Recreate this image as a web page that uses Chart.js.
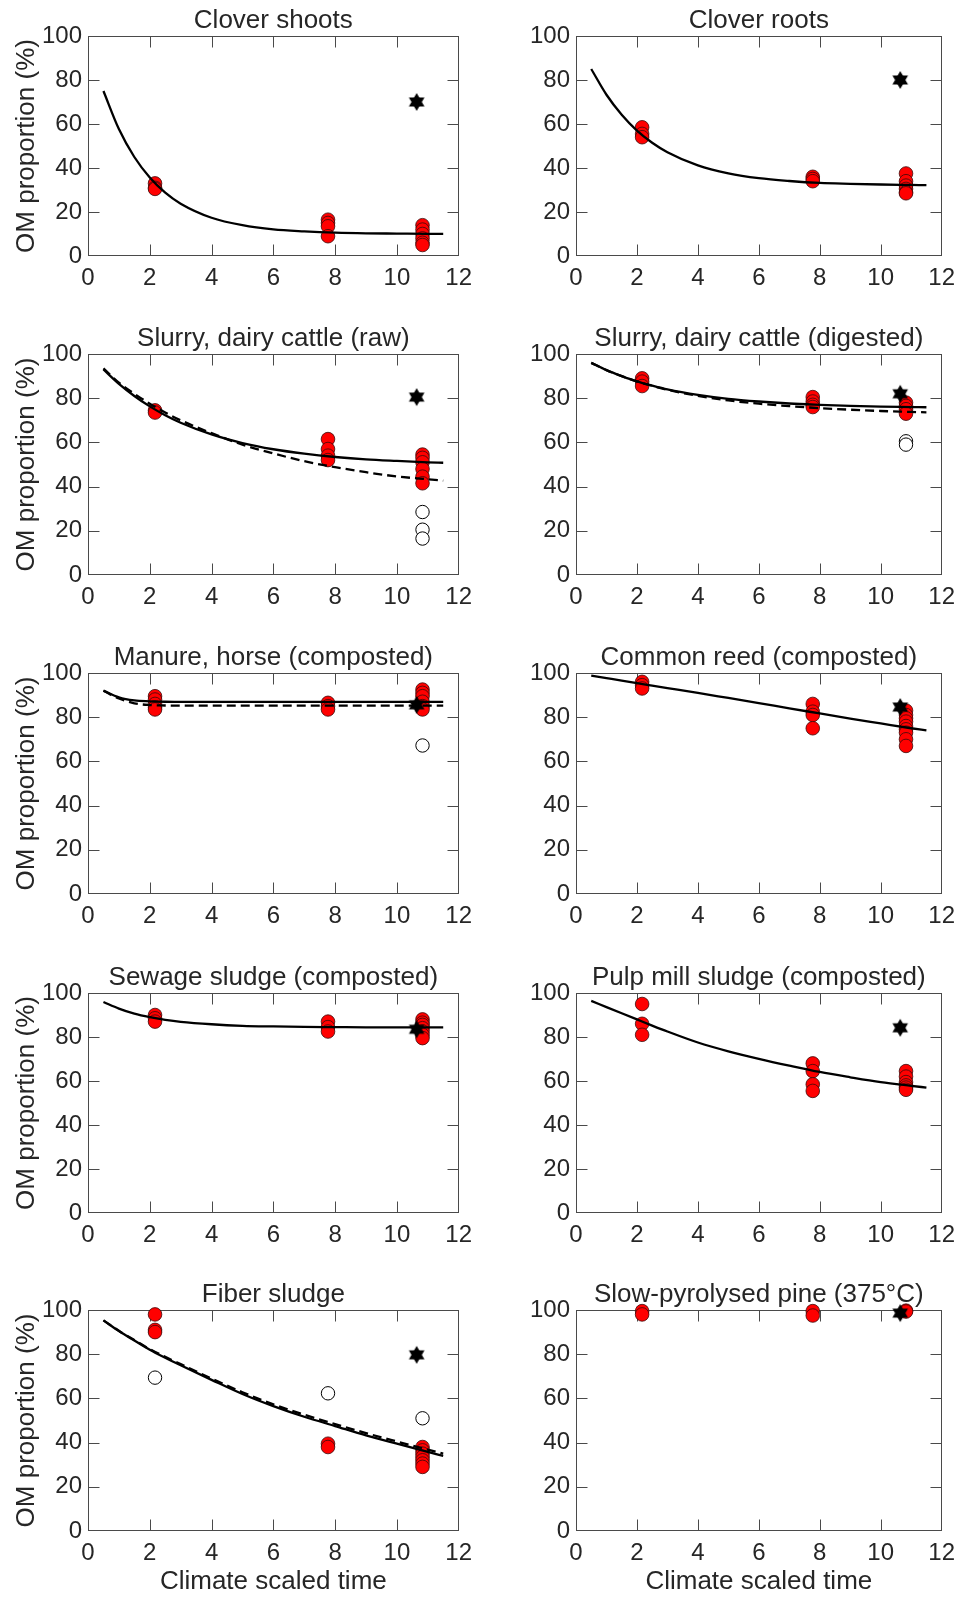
<!DOCTYPE html>
<html>
<head>
<meta charset="utf-8">
<script src="https://cdn.jsdelivr.net/npm/chart.js@4.4.1/dist/chart.umd.min.js"></script>
<style>
  html, body { margin: 0; padding: 0; background: #fff; }
  #wrap { position: relative; width: 963px; height: 1597px; overflow: hidden; }
  canvas { position: absolute; }
</style>
</head>
<body>
<div id="wrap"></div>
<script>
// sampling times of the measured points (climate scaled time)
const sampleTimes = [2.17, 7.77, 10.83];
const starTime = 10.64;
const xTickValues = [0, 2, 4, 6, 8, 10, 12];
const yTickValues = [0, 20, 40, 60, 80, 100];

const curveTimes = [0.5, 1, 1.5, 2, 2.5, 3, 4, 5, 6, 7, 8, 9, 10, 11, 11.5];

const titles = [
    'Clover shoots', 'Clover roots',
    'Slurry, dairy cattle (raw)', 'Slurry, dairy cattle (digested)',
    'Manure, horse (composted)', 'Common reed (composted)',
    'Sewage sludge (composted)', 'Pulp mill sludge (composted)',
    'Fiber sludge', 'Slow-pyrolysed pine (375°C)'
];

// Clover shoots
const cloverShootsFit = [75, 57.7, 45, 35.7, 28.8, 23.8, 17.4, 14, 12.1, 11.2, 10.6, 10.3, 10.2, 10.1, 10.1];
const cloverShootsRed = [[33, 31, 30.5], [16.5, 15, 13.5, 9], [14, 12, 10, 8, 6, 5]];
const cloverShootsStar = 70;

// Clover roots
const cloverRootsFit = [85, 73.3, 64.2, 57, 51.5, 47.2, 41.2, 37.6, 35.4, 34.1, 33.2, 32.8, 32.5, 32.3, 32.2];
const cloverRootsRed = [[58.5, 55.5, 54], [36, 35, 34], [37.5, 34, 32, 30.5, 29, 28.5]];
const cloverRootsStar = 80;

// Slurry, dairy cattle (raw)
const slurryRawFit = [93, 86.5, 81, 76.3, 72.3, 68.9, 63.6, 59.7, 56.9, 54.9, 53.4, 52.3, 51.6, 51, 50.8];
const slurryRawFitAlt = [93.5, 87, 82, 77.5, 73.5, 70, 64.2, 59, 55, 51.5, 48.8, 46.5, 44.6, 43.3, 42.7];
const slurryRawRed = [[74.5, 73.5], [61.5, 57, 54, 52], [54.5, 53, 51, 48, 44.5, 41.5]];
const slurryRawOpen = [[], [], [28.5, 20.5, 16.5]];
const slurryRawStar = 80.5;

// Slurry, dairy cattle (digested)
const slurryDigFit = [96, 92.7, 90, 87.6, 85.7, 84, 81.5, 79.7, 78.5, 77.6, 77, 76.5, 76.2, 76, 75.9];
const slurryDigFitAlt = [96, 92.7, 90, 87.6, 85.6, 83.8, 81.1, 79, 77.5, 76.4, 75.5, 74.8, 74.2, 73.8, 73.6];
const slurryDigRed = [[89, 87.5, 85.5], [80.5, 78.5, 77, 76], [78, 76.5, 75, 73]];
const slurryDigOpen = [[], [], [60.5, 59]];
const slurryDigStar = 82;

// Manure, horse (composted)
const manureFit = [92, 89, 87.6, 87.2, 87, 86.9, 86.9, 86.9, 86.9, 86.9, 86.9, 86.9, 86.9, 86.9, 86.9];
const manureFitAlt = [92, 88.5, 86.3, 85.5, 85.3, 85.2, 85.2, 85.2, 85.2, 85.2, 85.2, 85.2, 85.2, 85.2, 85.2];
const manureRed = [[89.5, 88, 86, 84.5, 83.5], [86.5, 85, 83.5], [92.5, 91, 89.5, 87, 85, 83.5]];
const manureOpen = [[], [], [67.2]];
const manureStar = 85.6;

// Common reed (composted)
const reedFit = [98.8, 97.7, 96.6, 95.4, 94.3, 93.2, 91, 88.7, 86.4, 84, 81.7, 79.4, 77.2, 75, 74];
const reedRed = [[96, 94.5, 93], [86, 82.5, 81, 75], [83, 81, 79.5, 78, 76, 74.5, 73, 70, 67]];
const reedStar = 84.6;

// Sewage sludge (composted)
const sewageFit = [95.9, 92.9, 90.6, 89, 87.8, 86.9, 85.8, 85.1, 84.8, 84.6, 84.5, 84.4, 84.4, 84.4, 84.4];
const sewageRed = [[90, 88.5, 87], [87, 84.5, 82.5], [88, 86.5, 85.5, 84, 82.5, 81, 79.5]];
const sewageStar = 83.5;

// Pulp mill sludge (composted)
const pulpFit = [96.4, 93.6, 90.8, 88, 85.2, 82.5, 77.5, 73.5, 70.1, 67, 64.1, 61.7, 59.5, 57.8, 57];
const pulpRed = [[95, 86, 81], [68, 64.5, 58.5, 55.5], [64.5, 62, 59.5, 58, 57, 56]];
const pulpStar = 84.2;

// Fiber sludge
const fiberFit = [95.3, 90.5, 86.2, 82, 78.4, 75, 68.4, 62, 56.5, 51.7, 47.5, 43.3, 39.5, 35.8, 34];
const fiberFitAlt = [95.3, 90.6, 86.4, 82.3, 78.8, 75.5, 69, 62.8, 57.3, 52.6, 48.4, 44.3, 40.5, 36.8, 35];
const fiberRed = [[98, 91, 90], [39.5, 38], [38, 36.5, 35, 33.5, 32, 30.5, 29]];
const fiberOpen = [[69.4], [62.3], [51]];
const fiberStar = 79.7;

// Slow-pyrolysed pine (375°C)
const pineRed = [[99.5, 98], [99.5, 97.5], [99.7, 99.3]];
const pineStar = 98.6;

const panels = [
    { solid: cloverShootsFit, red: cloverShootsRed, star: cloverShootsStar },
    { solid: cloverRootsFit, red: cloverRootsRed, star: cloverRootsStar },
    { solid: slurryRawFit, dashed: slurryRawFitAlt, red: slurryRawRed, open: slurryRawOpen, star: slurryRawStar },
    { solid: slurryDigFit, dashed: slurryDigFitAlt, red: slurryDigRed, open: slurryDigOpen, star: slurryDigStar },
    { solid: manureFit, dashed: manureFitAlt, red: manureRed, open: manureOpen, star: manureStar },
    { solid: reedFit, red: reedRed, star: reedStar },
    { solid: sewageFit, red: sewageRed, star: sewageStar },
    { solid: pulpFit, red: pulpRed, star: pulpStar },
    { solid: fiberFit, dashed: fiberFitAlt, red: fiberRed, open: fiberOpen, star: fiberStar },
    { red: pineRed, star: pineStar }
];

const FONT = '"Liberation Sans", Arial, Helvetica, sans-serif';
const TEXT = '#262626';
const AXIS = '#4a4a4a';
const TICK_LEN = 11;

// layout of the 5x2 grid (pixel positions of the plot boxes)
const rowTops = [36, 354, 673, 993, 1310];
const rowBottoms = [256, 575, 894, 1213, 1531];
const canvasTops = [0, 318, 637, 957, 1274, 1597];
const cols = [
    { left: 0, width: 480, plotLeft: 88, plotRight: 459 },
    { left: 480, width: 483, plotLeft: 96, plotRight: 467 }
];

function makeStar(r) {
    const c = document.createElement('canvas');
    c.width = c.height = 2 * r + 2;
    const g = c.getContext('2d');
    g.fillStyle = '#000';
    const cx = r + 1, cy = r + 1;
    [-Math.PI / 2, Math.PI / 2].forEach(rot => {
        g.beginPath();
        for (let k = 0; k < 3; k++) {
            const a = rot + k * 2 * Math.PI / 3;
            g.lineTo(cx + r * Math.cos(a), cy + r * Math.sin(a));
        }
        g.closePath();
        g.fill();
    });
    return c;
}
const starImage = makeStar(9);

function groupsToPoints(groups) {
    const pts = [];
    groups.forEach((vals, i) => vals.forEach(v => pts.push({ x: sampleTimes[i], y: v })));
    return pts;
}

function curvePoints(values) {
    return curveTimes.map((t, i) => ({ x: t, y: values[i] }));
}

// box and inward ticks on all four sides, like the original figure
const framePlugin = {
    id: 'frame',
    beforeDatasetsDraw(chart) {
        const { ctx, chartArea: a, scales } = chart;
        const L = Math.round(a.left) + 0.5, R = Math.round(a.right) - 0.5;
        const T = Math.round(a.top) + 0.5, B = Math.round(a.bottom) - 0.5;
        ctx.save();
        ctx.strokeStyle = AXIS;
        ctx.lineWidth = 1;
        ctx.beginPath();
        scales.x.ticks.forEach(t => {
            const px = Math.round(scales.x.getPixelForValue(t.value)) + 0.5;
            if (px <= L + 1 || px >= R - 1) return;
            ctx.moveTo(px, B); ctx.lineTo(px, B - TICK_LEN);
            ctx.moveTo(px, T); ctx.lineTo(px, T + TICK_LEN);
        });
        scales.y.ticks.forEach(t => {
            const py = Math.round(scales.y.getPixelForValue(t.value)) + 0.5;
            if (py <= T + 1 || py >= B - 1) return;
            ctx.moveTo(L, py); ctx.lineTo(L + TICK_LEN, py);
            ctx.moveTo(R, py); ctx.lineTo(R - TICK_LEN, py);
        });
        ctx.stroke();
        ctx.strokeRect(L, T, R - L, B - T);
        ctx.restore();
    }
};

const wrap = document.getElementById('wrap');

panels.forEach((p, idx) => {
    const row = Math.floor(idx / 2), colIdx = idx % 2;
    const col = cols[colIdx];
    const top = canvasTops[row];
    const height = canvasTops[row + 1] - top;
    const plotH = rowBottoms[row] - rowTops[row];
    const xAxisH = height - 36 - plotH;
    const isBottom = row === 4;
    const isLeft = colIdx === 0;

    const canvas = document.createElement('canvas');
    canvas.width = col.width;
    canvas.height = height;
    canvas.style.left = col.left + 'px';
    canvas.style.top = top + 'px';
    canvas.style.width = col.width + 'px';
    canvas.style.height = height + 'px';
    wrap.appendChild(canvas);

    // first dataset is drawn on top
    const datasets = [];
    if (p.solid) {
        datasets.push({
            type: 'line', data: curvePoints(p.solid), borderColor: '#000', borderWidth: 2.3,
            pointRadius: 0, cubicInterpolationMode: 'monotone', fill: false, clip: false
        });
    }
    if (p.dashed) {
        datasets.push({
            type: 'line', data: curvePoints(p.dashed), borderColor: '#000', borderWidth: 2.3,
            borderDash: [9, 5], pointRadius: 0, cubicInterpolationMode: 'monotone', fill: false, clip: false
        });
    }
    datasets.push({
        data: [{ x: starTime, y: p.star }], pointStyle: starImage, pointRadius: 9, clip: false
    });
    if (p.open) {
        datasets.push({
            data: groupsToPoints(p.open), pointRadius: 6.7, backgroundColor: '#fff',
            borderColor: '#000', borderWidth: 1, clip: false
        });
    }
    datasets.push({
        data: groupsToPoints(p.red), pointRadius: 6.8, backgroundColor: '#ff0000',
        borderColor: '#3a0a0a', borderWidth: 0.8, clip: false
    });

    new Chart(canvas.getContext('2d'), {
        type: 'scatter',
        data: { datasets },
        options: {
            responsive: false,
            animation: false,
            devicePixelRatio: 1,
            events: [],
            layout: { padding: { left: 0, right: col.width - col.plotRight, top: 0, bottom: 0 } },
            plugins: {
                legend: { display: false },
                tooltip: { enabled: false },
                title: {
                    display: true,
                    text: titles[idx],
                    fullSize: false,
                    color: TEXT,
                    font: { family: FONT, size: 26, weight: 'normal', lineHeight: 1 },
                    padding: { top: 8, bottom: 2 }
                }
            },
            scales: {
                x: {
                    type: 'linear',
                    min: 0,
                    max: 12,
                    afterBuildTicks: s => { s.ticks = xTickValues.map(v => ({ value: v })); },
                    afterFit: s => { s.height = xAxisH; },
                    grid: { display: false, drawTicks: false },
                    border: { display: false },
                    ticks: { color: TEXT, font: { family: FONT, size: 24 }, padding: 8, maxRotation: 0 },
                    title: {
                        display: isBottom,
                        text: 'Climate scaled time',
                        color: TEXT,
                        font: { family: FONT, size: 26, lineHeight: 1.2 },
                        padding: { top: 0, bottom: 0 }
                    }
                },
                y: {
                    type: 'linear',
                    min: 0,
                    max: 100,
                    afterBuildTicks: s => { s.ticks = yTickValues.map(v => ({ value: v })); },
                    afterFit: s => { s.width = col.plotLeft; },
                    grid: { display: false, drawTicks: false },
                    border: { display: false },
                    ticks: { color: TEXT, font: { family: FONT, size: 24 }, padding: 6 },
                    title: {
                        display: isLeft,
                        text: 'OM proportion (%)',
                        color: TEXT,
                        font: { family: FONT, size: 26, lineHeight: 1.2 },
                        padding: { top: 11, bottom: 11 }
                    }
                }
            }
        },
        plugins: [framePlugin]
    });
});
</script>
</body>
</html>
